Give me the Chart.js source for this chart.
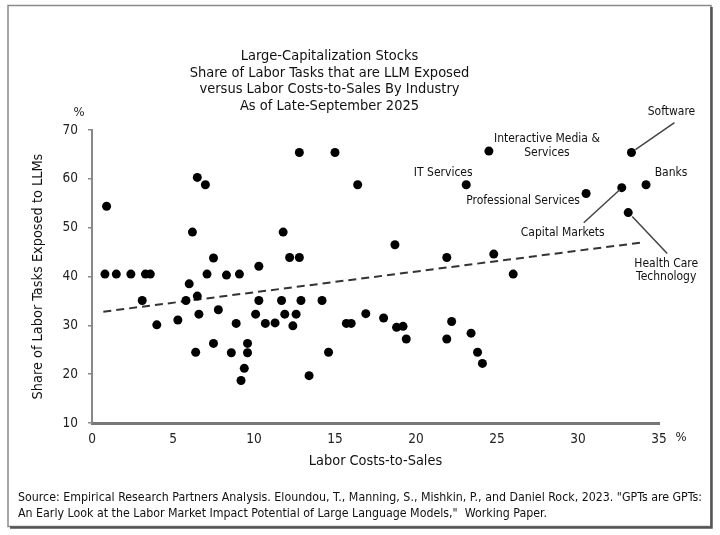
<!DOCTYPE html>
<html>
<head>
<meta charset="utf-8">
<script src="https://cdn.jsdelivr.net/npm/chart.js@4.4.1/dist/chart.umd.min.js"></script>
<style>
html, body { margin: 0; padding: 0; background: #fff; }
#wrap { width: 720px; height: 535px; }
</style>
</head>
<body>
<div id="wrap"><canvas id="exposureChart" width="720" height="535"></canvas></div>
<script>
const FONT = "'DejaVu Sans Condensed', 'DejaVu Sans', sans-serif";

// industry points (labor costs-to-sales %, LLM exposed share %)
const laborCosts = [
    0.9, 0.8, 1.5, 2.4, 3.3, 3.6, 7.1, 8.3, 9.1, 10.3,
    6.2, 6.5, 7.0, 7.5, 6.0, 3.1, 5.8, 6.5, 10.3, 11.7,
    4.0, 5.3, 6.6, 7.8, 10.1, 8.9, 10.7, 11.3, 7.5, 6.4,
    8.6, 9.6, 9.6, 9.4, 9.2, 12.9, 14.2, 11.9, 12.6, 12.4,
    14.6, 13.4, 15.7, 16.0, 16.9, 18.0, 18.8, 19.2, 19.4, 21.9,
    22.2, 23.4, 23.8, 24.1, 26.0, 11.8, 12.2, 12.8, 12.8, 15.0,
    16.4, 18.7, 21.9, 23.1, 24.5, 30.5, 33.3, 32.7, 34.2, 33.1,
    24.8
];
const llmExposure = [
    54.4, 40.5, 40.5, 40.5, 40.5, 40.5, 40.5, 40.3, 40.5, 42.1,
    49.1, 60.3, 58.8, 43.8, 38.5, 35.1, 35.1, 36.0, 35.1, 35.1,
    30.1, 31.1, 32.3, 33.2, 32.3, 30.4, 30.4, 30.5, 26.3, 24.5,
    24.4, 26.3, 24.4, 21.2, 18.7, 35.1, 35.1, 32.3, 32.3, 29.9,
    24.5, 19.7, 30.4, 30.4, 32.4, 31.5, 29.6, 29.8, 27.2, 27.2,
    30.8, 28.4, 24.5, 22.2, 40.5, 49.1, 43.9, 43.9, 65.4, 65.4,
    58.8, 46.5, 43.9, 58.8, 65.7, 57.0, 65.4, 58.2, 58.8, 53.1,
    44.6
];
const industryNames = [
    '', '', '', '', '', '', '', '', '', '',
    '', '', '', '', '', '', '', '', '', '',
    '', '', '', '', '', '', '', '', '', '',
    '', '', '', '', '', '', '', '', '', '',
    '', '', '', '', '', '', '', '', '', '',
    '', '', '', '', '', '', '', '', '', '',
    '', '', '', 'IT Services', 'Interactive Media & Services', 'Professional Services', 'Software', 'Capital Markets', 'Banks', 'Health Care Technology',
    ''
];

// dashed fit line end points
const trendCosts = [0.7, 34.0];
const trendExposure = [32.8, 47.0];

const xTicks = [0, 5, 10, 15, 20, 25, 30, 35];
const yTicks = [10, 20, 30, 40, 50, 60, 70];

const titleLines = [
    'Large-Capitalization Stocks',
    'Share of Labor Tasks that are LLM Exposed',
    'versus Labor Costs-to-Sales By Industry',
    'As of Late-September 2025'
];
const sourceLines = [
    'Source: Empirical Research Partners Analysis. Eloundou, T., Manning, S., Mishkin, P., and Daniel Rock, 2023. "GPTs are GPTs:',
    'An Early Look at the Labor Market Impact Potential of Large Language Models,"  Working Paper.'
];

// where the callout text sits relative to its point (px)
const callouts = {
    'IT Services': { text: ['IT Services'], dx: -23, dy: -12 },
    'Interactive Media & Services': { text: ['Interactive Media &', 'Services'], dx: 58, dy: -12 },
    'Professional Services': { text: ['Professional Services'], dx: -63, dy: 7 },
    'Software': { text: ['Software'], dx: 40, dy: -41, line: [4, -3, 43, -30] },
    'Capital Markets': { text: ['Capital Markets'], dx: -59, dy: 45, line: [-2, 2, -38, 35] },
    'Banks': { text: ['Banks'], dx: 25, dy: -12 },
    'Health Care Technology': { text: ['Health Care', 'Technology'], dx: 38, dy: 51, line: [4, 4, 39, 41] }
};

const points = laborCosts.map((x, i) => ({ x: x, y: llmExposure[i] }));
const trend = trendCosts.map((x, i) => ({ x: x, y: trendExposure[i] }));

const framePlugin = {
    id: 'frame',
    beforeDraw(chart) {
        const ctx = chart.ctx;
        ctx.save();
        ctx.fillStyle = '#fff';
        ctx.fillRect(0, 0, chart.width, chart.height);
        ctx.strokeStyle = '#8a8a8a';
        ctx.lineWidth = 1.5;
        ctx.strokeRect(8, 5.5, 703, 521);
        ctx.strokeStyle = '#555';
        ctx.lineWidth = 2.5;
        ctx.beginPath();
        ctx.moveTo(711.5, 7);
        ctx.lineTo(711.5, 527.5);
        ctx.lineTo(10, 527.5);
        ctx.stroke();
        ctx.restore();
    },
    afterDraw(chart) {
        const ctx = chart.ctx;
        const area = chart.chartArea;
        ctx.save();
        ctx.fillStyle = '#222';
        ctx.font = `13px ${FONT}`;
        ctx.textAlign = 'center';
        ctx.textBaseline = 'middle';
        ctx.fillText('%', area.left - 13, area.top - 17);
        ctx.fillText('%', area.right + 22, area.bottom + 15);

        ctx.fillStyle = '#111';
        ctx.font = `12.3px ${FONT}`;
        ctx.textAlign = 'left';
        sourceLines.forEach((line, i) => {
            ctx.fillText(line, 18, 498 + i * 16, 688);
        });
        ctx.restore();
    }
};

const calloutPlugin = {
    id: 'callouts',
    afterDatasetsDraw(chart) {
        const ctx = chart.ctx;
        const xs = chart.scales.x;
        const ys = chart.scales.y;
        ctx.save();
        ctx.font = `12px ${FONT}`;
        ctx.fillStyle = '#111';
        ctx.textAlign = 'center';
        ctx.textBaseline = 'middle';
        industryNames.forEach((name, i) => {
            const c = callouts[name];
            if (!c) return;
            const px = xs.getPixelForValue(laborCosts[i]);
            const py = ys.getPixelForValue(llmExposure[i]);
            if (c.line) {
                ctx.strokeStyle = '#444';
                ctx.lineWidth = 1.5;
                ctx.beginPath();
                ctx.moveTo(px + c.line[0], py + c.line[1]);
                ctx.lineTo(px + c.line[2], py + c.line[3]);
                ctx.stroke();
            }
            c.text.forEach((t, k) => {
                ctx.fillText(t, px + c.dx, py + c.dy + k * 13.5);
            });
        });
        ctx.restore();
    }
};

new Chart(document.querySelector('#exposureChart').getContext('2d'), {
    type: 'scatter',
    data: {
        datasets: [{
            label: 'Industries',
            data: points,
            backgroundColor: '#000',
            borderWidth: 0,
            pointRadius: 4.5,
            pointHoverRadius: 4.5
        }, {
            type: 'line',
            label: 'Trend',
            data: trend,
            borderColor: '#333',
            borderWidth: 2,
            borderDash: [8, 5],
            pointRadius: 0,
            fill: false
        }]
    },
    options: {
        responsive: false,
        animation: false,
        layout: {
            padding: { left: 0, right: 61, top: 0, bottom: 52 }
        },
        plugins: {
            legend: { display: false },
            tooltip: { enabled: false },
            title: {
                display: true,
                text: titleLines,
                color: '#111',
                font: { family: FONT, size: 14.5, weight: 'normal', lineHeight: 1.165 },
                padding: { top: 47.5, bottom: 15 }
            }
        },
        scales: {
            x: {
                type: 'linear',
                min: 0,
                max: 35,
                afterBuildTicks: s => { s.ticks = xTicks.map(v => ({ value: v })); },
                ticks: { color: '#222', font: { family: FONT, size: 13.5 }, padding: 8 },
                grid: { display: false, drawTicks: false },
                border: { display: true, color: '#777', width: 3 },
                title: {
                    display: true,
                    text: 'Labor Costs-to-Sales',
                    color: '#111',
                    font: { family: FONT, size: 14.4 },
                    padding: { top: 0, bottom: 13 }
                },
                afterFit: s => { s.height = 60; }
            },
            y: {
                min: 10,
                max: 70,
                afterBuildTicks: s => { s.ticks = yTicks.map(v => ({ value: v })); },
                ticks: { color: '#222', font: { family: FONT, size: 13.5 }, padding: 10 },
                grid: { drawOnChartArea: false, drawTicks: true, tickLength: 4, color: '#888', lineWidth: 1.5 },
                border: { display: true, color: '#888', width: 2 },
                title: {
                    display: true,
                    text: 'Share of Labor Tasks Exposed to LLMs',
                    color: '#111',
                    font: { family: FONT, size: 14.4 },
                    padding: { top: 30, bottom: 0 }
                },
                afterFit: s => { s.width = 92; }
            }
        }
    },
    plugins: [framePlugin, calloutPlugin]
});
</script>
</body>
</html>
